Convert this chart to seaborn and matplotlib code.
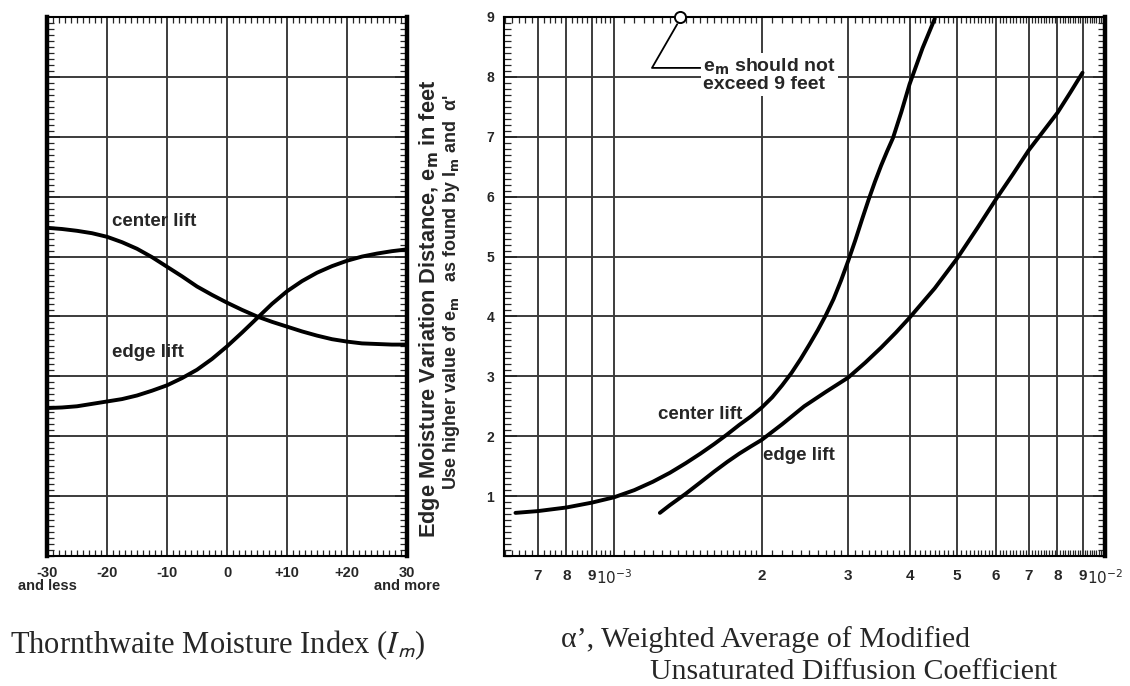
import numpy as np
import pandas as pd
import matplotlib
matplotlib.use("Agg")
import matplotlib.pyplot as plt
import seaborn as sns
from matplotlib.ticker import FixedLocator, MultipleLocator, NullFormatter

# ---------------- data ----------------
im_values = [-30, -27.5, -25, -22.5, -20, -17.5, -15, -12.5, -10, -7.5, -5, -2.5, 0,
             2.5, 5, 7.5, 10, 12.5, 15, 17.5, 20, 22.5, 25, 27.5, 30]
center_lift_im = [5.48, 5.46, 5.43, 5.39, 5.33, 5.24, 5.13, 4.99, 4.83, 4.67, 4.50, 4.36, 4.23,
                  4.11, 4.00, 3.91, 3.83, 3.75, 3.68, 3.62, 3.58, 3.55, 3.54, 3.53, 3.53]
edge_lift_im = [2.47, 2.48, 2.50, 2.54, 2.58, 2.62, 2.68, 2.76, 2.85, 2.97, 3.11, 3.29, 3.50,
                3.73, 3.97, 4.21, 4.42, 4.59, 4.73, 4.84, 4.93, 5.00, 5.05, 5.09, 5.12]

alpha_center = [6.3e-4, 7e-4, 8e-4, 9e-4, 1.0e-3, 1.1e-3, 1.2e-3, 1.3e-3, 1.4e-3, 1.5e-3,
                1.6e-3, 1.7e-3, 1.8e-3, 1.9e-3, 2.0e-3, 2.1e-3, 2.2e-3, 2.3e-3, 2.4e-3, 2.5e-3,
                2.6e-3, 2.7e-3, 2.8e-3, 2.9e-3, 3.0e-3, 3.1e-3, 3.2e-3, 3.3e-3, 3.4e-3, 3.5e-3,
                3.6e-3, 3.7e-3, 3.85e-3, 4.0e-3, 4.25e-3, 4.5e-3]
center_lift_alpha = [0.72, 0.75, 0.81, 0.89, 0.98, 1.10, 1.24, 1.39, 1.55, 1.71,
                     1.87, 2.03, 2.19, 2.33, 2.48, 2.65, 2.85, 3.06, 3.29, 3.53,
                     3.77, 4.02, 4.29, 4.60, 4.93, 5.27, 5.62, 5.95, 6.25, 6.52,
                     6.76, 6.98, 7.42, 7.88, 8.48, 8.97]
alpha_edge = [1.24e-3, 1.3e-3, 1.4e-3, 1.5e-3, 1.6e-3, 1.7e-3, 1.8e-3, 1.9e-3, 2.0e-3,
              2.2e-3, 2.44e-3, 2.7e-3, 3.0e-3, 3.25e-3, 3.5e-3, 3.75e-3, 4.0e-3, 4.5e-3,
              5.0e-3, 5.5e-3, 6.0e-3, 6.5e-3, 7.0e-3, 7.5e-3, 8.0e-3, 8.5e-3, 9.0e-3]
edge_lift_alpha = [0.72, 0.85, 1.04, 1.23, 1.41, 1.57, 1.71, 1.83, 1.94,
                   2.20, 2.50, 2.74, 2.98, 3.23, 3.48, 3.73, 3.98, 4.47,
                   4.97, 5.48, 5.96, 6.38, 6.78, 7.10, 7.40, 7.74, 8.07]

im_ticks = [-30, -20, -10, 0, 10, 20, 30]
im_tick_labels = ["-30\nand less", "-20", "-10", "0", "+10", "+20", "30\nand more"]
alpha_ticks = [7e-4, 8e-4, 9e-4, 1e-3, 2e-3, 3e-3, 4e-3, 5e-3, 6e-3, 7e-3, 8e-3, 9e-3, 1e-2]
alpha_tick_labels = ["7", "8", "9", r"$10^{-3}$", "2", "3", "4", "5", "6", "7", "8", "9", r"$10^{-2}$"]
em_ticks = [1, 2, 3, 4, 5, 6, 7, 8, 9]
em_limit = 9
em_limit_alpha = 1.363e-3

# ---------------- style ----------------
sns.set_theme(style="white")
plt.rcParams['font.family'] = ['Liberation Sans', 'DejaVu Sans']
plt.rcParams['axes.edgecolor'] = 'black'
plt.rcParams['lines.solid_joinstyle'] = 'round'
plt.rcParams['lines.solid_capstyle'] = 'round'

W, H = 1130, 686
fig = plt.figure(figsize=(W / 100, H / 100), dpi=100)
fig.patch.set_facecolor('white')


def px_axes(x0, y0, x1, y1):
    return fig.add_axes([x0 / W, 1 - y1 / H, (x1 - x0) / W, (y1 - y0) / H])


ax1 = px_axes(47, 17, 407, 556)
ax2 = px_axes(504, 17, 1105, 556)
ax2.set_xscale('log')

grid_kw = dict(color='#3c3c3c', linewidth=1.4)
line_kw = dict(color='black', linewidth=2.8)

# ---------------- left panel ----------------
df_im = pd.DataFrame({"im": im_values, "center": center_lift_im, "edge": edge_lift_im})
sns.lineplot(data=df_im, x="im", y="center", ax=ax1, zorder=5, **line_kw)
sns.lineplot(data=df_im, x="im", y="edge", ax=ax1, zorder=5, **line_kw)
ax1.set_xlim(-30, 30)
ax1.set_ylim(0, 9)
ax1.set_xticks(im_ticks)
ax1.set_xticklabels(im_tick_labels, fontsize=10.5, fontweight='bold', linespacing=0.95)
ax1.set_yticks(em_ticks)
ax1.set_yticklabels([])
ax1.xaxis.set_minor_locator(MultipleLocator(1))
ax1.yaxis.set_minor_locator(MultipleLocator(0.1))
ax1.grid(True, which='major', **grid_kw)
ax1.tick_params(axis='x', which='major', direction='in', length=0, pad=7, bottom=True, top=True)
ax1.tick_params(axis='x', which='minor', direction='in', length=4, width=0.9, bottom=True, top=True)
ax1.tick_params(axis='y', which='major', direction='in', length=9, width=1.2, left=True, right=True)
ax1.tick_params(axis='y', which='minor', direction='in', length=5, width=0.9, left=True, right=True)
for side in ['top', 'bottom']:
    ax1.spines[side].set_linewidth(1.5)
for side in ['left', 'right']:
    ax1.spines[side].set_linewidth(3.2)
ax1.set_xlabel("")
ax1.set_ylabel("")

ax1.text(-19.2, 5.58, "center lift", fontsize=13.5, fontweight='bold', va='center', ha='left')
ax1.text(-19.2, 3.40, "edge lift", fontsize=13.5, fontweight='bold', va='center', ha='left')

# ---------------- right panel ----------------
df_c = pd.DataFrame({"alpha": alpha_center, "em": center_lift_alpha})
df_e = pd.DataFrame({"alpha": alpha_edge, "em": edge_lift_alpha})
sns.lineplot(data=df_c, x="alpha", y="em", ax=ax2, zorder=5, **line_kw)
sns.lineplot(data=df_e, x="alpha", y="em", ax=ax2, zorder=5, **line_kw)
ax2.set_xlim(5.97e-4, 1e-2)
ax2.set_ylim(0, 9)
ax2.xaxis.set_major_locator(FixedLocator(alpha_ticks))
ax2.set_xticklabels(alpha_tick_labels, fontsize=11, fontweight='bold')
minor_x = list(np.arange(6.0e-4, 1.0e-3, 0.2e-4)) + list(np.arange(1.0e-3, 2.0e-3, 0.05e-3)) \
    + list(np.arange(2.0e-3, 1.0e-2, 0.1e-3))
ax2.xaxis.set_minor_locator(FixedLocator(minor_x))
ax2.xaxis.set_minor_formatter(NullFormatter())
ax2.set_yticks(em_ticks)
ax2.set_yticklabels([str(t) for t in em_ticks], fontsize=10, fontweight='bold')
ax2.yaxis.set_minor_locator(MultipleLocator(0.1))
ax2.grid(True, which='major', **grid_kw)
ax2.tick_params(axis='x', which='major', direction='in', length=0, pad=9, bottom=True, top=True)
ax2.tick_params(axis='x', which='minor', direction='in', length=4, width=0.9, bottom=True, top=True)
ax2.tick_params(axis='y', which='major', direction='in', length=9, width=1.2, left=True, right=True, pad=7)
ax2.tick_params(axis='y', which='minor', direction='in', length=5, width=0.9, left=True, right=True)
for side in ['top', 'bottom', 'left']:
    ax2.spines[side].set_linewidth(1.5)
ax2.spines['right'].set_linewidth(3.2)
ax2.set_xlabel("")
ax2.set_ylabel("")

ax2.text(1.229e-3, 2.37, "center lift", fontsize=13.5, fontweight='bold', va='center', ha='left', zorder=6)
ax2.text(2.01e-3, 1.67, "edge lift", fontsize=13.5, fontweight='bold', va='center', ha='left', zorder=6)

# annotation: e_m should not exceed 9 feet
ax2.plot([em_limit_alpha], [em_limit], marker='o', markersize=8, markerfacecolor='white',
         markeredgecolor='black', markeredgewidth=1.4, clip_on=False, zorder=8)
ax2.plot([1.345e-3, 1.195e-3, 1.50e-3], [8.88, 8.15, 8.15], color='black', linewidth=1.3,
         clip_on=False, zorder=7)
ax2.text(1.52e-3, 8.03, "e$_\\mathbf{m}$ should not\nexceed 9 feet", fontsize=14, fontweight='bold',
         va='center', ha='left', linespacing=0.95, math_fontfamily='dejavusans',
         bbox=dict(facecolor='white', edgecolor='none', pad=1.5), zorder=7)

# ---------------- y-axis label (between panels) ----------------
fig.text(429 / W, 1 - 80 / H, "Edge Moisture Variation Distance, e$_\\mathbf{m}$ in feet",
         rotation=90, ha='center', va='top', fontsize=15.7, fontweight='bold',
         math_fontfamily='dejavusans')
fig.text(451 / W, 1 - 95 / H, "Use higher value of e$_\\mathbf{m}$   as found by I$_\\mathbf{m}$ and  α'",
         rotation=90, ha='center', va='top', fontsize=12.9, fontweight='bold',
         math_fontfamily='dejavusans')

# ---------------- bottom captions ----------------
fig.text(10 / W, 1 - 653 / H, r"Thornthwaite Moisture Index ($I_{\mathsf{m}}$)",
         fontsize=22, family='Liberation Serif', ha='left', va='baseline', math_fontfamily='stix')
fig.text(561 / W, 1 - 647 / H, "α’, Weighted Average of Modified",
         fontsize=21.5, family='Liberation Serif', ha='left', va='baseline')
fig.text(650 / W, 1 - 679 / H, "Unsaturated Diffusion Coefficient",
         fontsize=21.5, family='Liberation Serif', ha='left', va='baseline')

fig.savefig("out.png", dpi=100, facecolor='white')
